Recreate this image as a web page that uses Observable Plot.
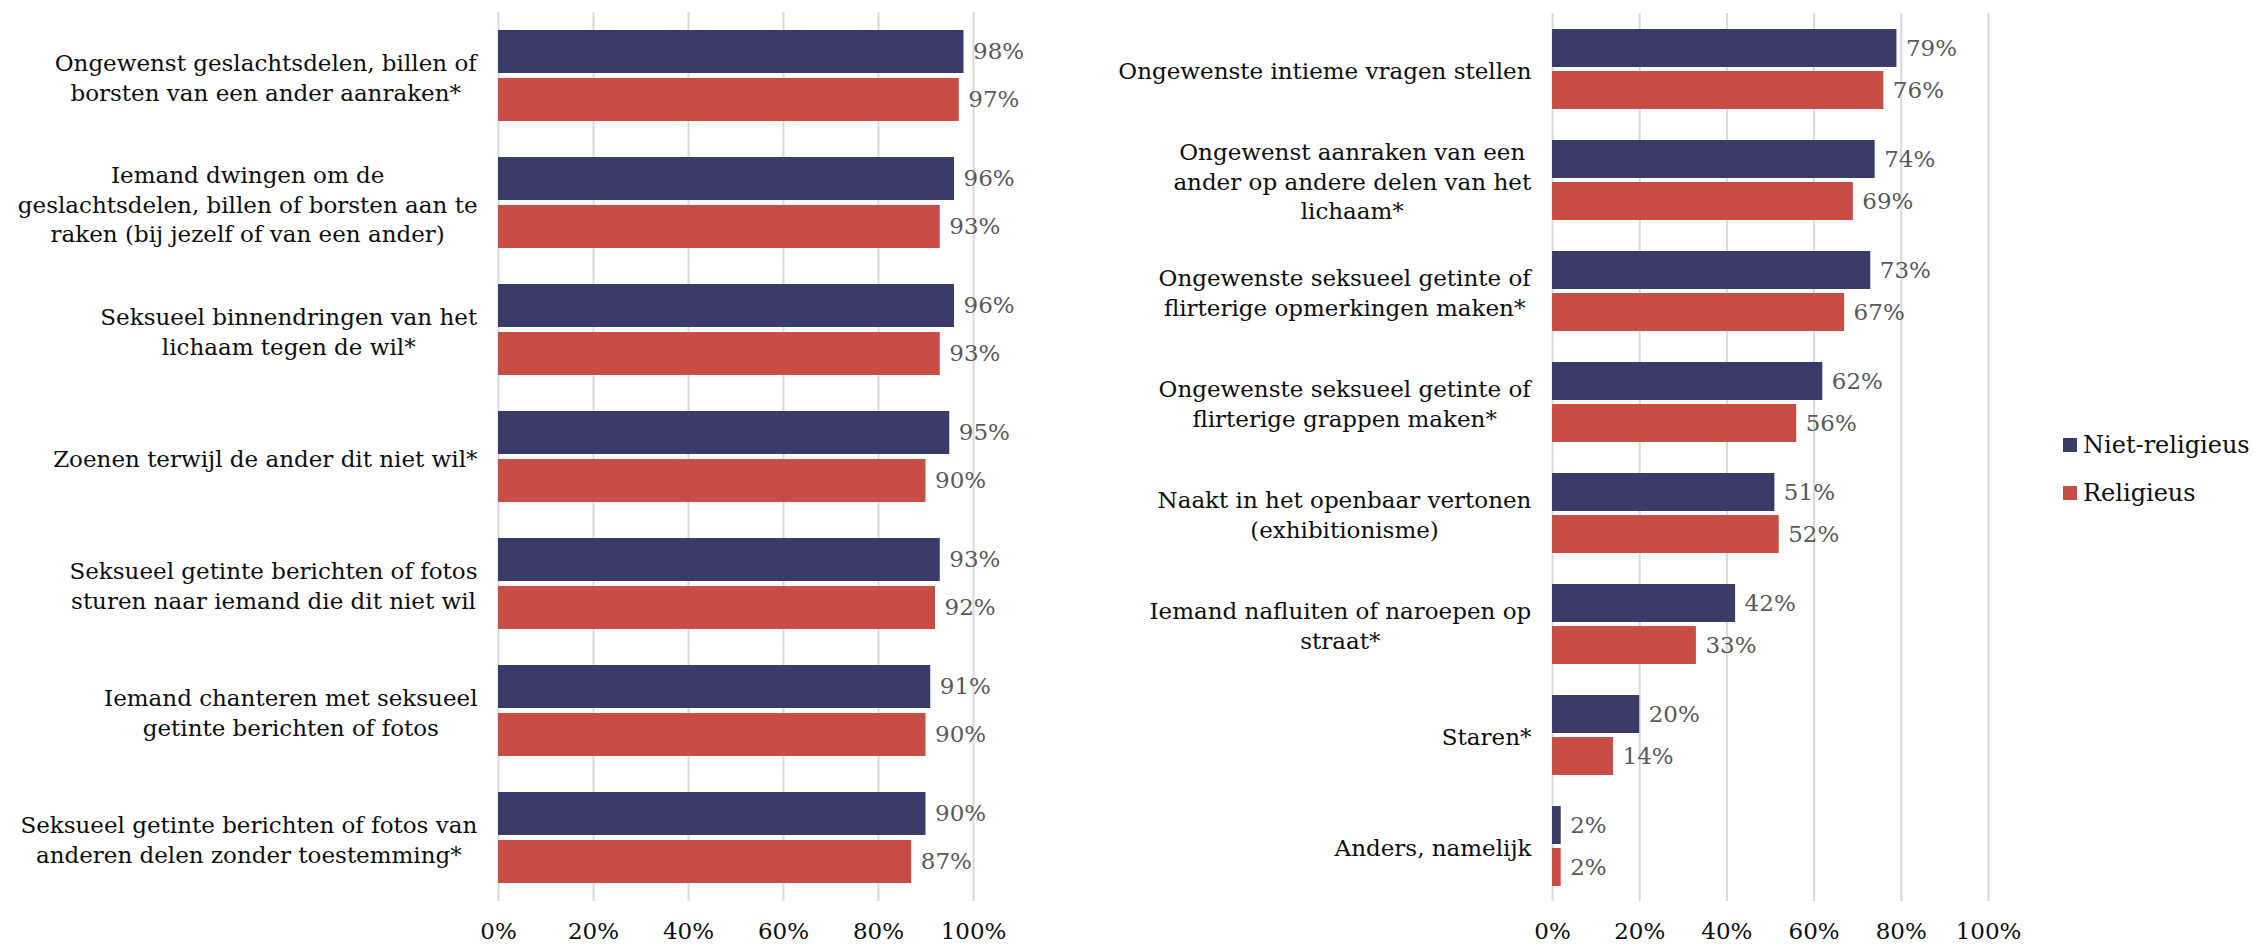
<!DOCTYPE html>
<html><head><meta charset="utf-8">
<script src="https://cdn.jsdelivr.net/npm/d3@7"></script>
<script src="https://cdn.jsdelivr.net/npm/@observablehq/plot@0.6"></script>
<style>
body{margin:0;background:#fff;}
#wrap{position:relative;width:2255px;height:945px;overflow:hidden;background:#fff;}
#left{position:absolute;left:0;top:0;}
#right{position:absolute;left:1045px;top:0;}
#legend{position:absolute;left:2063px;top:431px;width:192px;}
.lg-swatch svg{margin-right:6px !important;}
.lg-swatch{padding-bottom:20px !important;}
</style></head><body>
<div id="wrap"><div id="left"></div><div id="right"></div><div id="legend"></div></div>
<script>
const series = ["Niet-religieus", "Religieus"];
const seriesColors = ["#393b68", "#c84d44"];

const leftCategories = [
  "Ongewenst geslachtsdelen, billen of\nborsten van een ander aanraken*",
  "Iemand dwingen om de\ngeslachtsdelen, billen of borsten aan te\nraken (bij jezelf of van een ander)",
  "Seksueel binnendringen van het\nlichaam tegen de wil*",
  "Zoenen terwijl de ander dit niet wil*",
  "Seksueel getinte berichten of fotos\nsturen naar iemand die dit niet wil",
  "Iemand chanteren met seksueel\ngetinte berichten of fotos",
  "Seksueel getinte berichten of fotos van\nanderen delen zonder toestemming*"
];
const leftNietReligieus = [98, 96, 96, 95, 93, 91, 90];
const leftReligieus = [97, 93, 93, 90, 92, 90, 87];

const rightCategories = [
  "Ongewenste intieme vragen stellen",
  "Ongewenst aanraken van een\nander op andere delen van het\nlichaam*",
  "Ongewenste seksueel getinte of\nflirterige opmerkingen maken*",
  "Ongewenste seksueel getinte of\nflirterige grappen maken*",
  "Naakt in het openbaar vertonen\n(exhibitionisme)",
  "Iemand nafluiten of naroepen op\nstraat*",
  "Staren*",
  "Anders, namelijk"
];
const rightNietReligieus = [79, 74, 73, 62, 51, 42, 20, 2];
const rightReligieus = [76, 69, 67, 56, 52, 33, 14, 2];

const xTicks = [0, 20, 40, 60, 80, 100];

const FONT = "'DejaVu Serif', serif";

function rows(cats, a, b) {
  return cats.flatMap((c, i) => [
    {category: c, series: series[0], value: a[i]},
    {category: c, series: series[1], value: b[i]}
  ]);
}

function panel(cats, a, b, {width, marginLeft, marginRight}) {
  const data = rows(cats, a, b);
  return Plot.plot({
    width, height: 945,
    marginTop: 12, marginBottom: 44, marginLeft, marginRight,
    style: {fontFamily: FONT, fontSize: "23px", color: "#0d0d0d", background: "#fff", overflow: "visible"},
    facet: {marginTop: 0, marginRight: 0, marginBottom: 0, marginLeft: 0},
    fy: {domain: cats, padding: 0, axis: null},
    y: {domain: series, paddingInner: 0.1, paddingOuter: 0.35, axis: null},
    x: {domain: [0, 100], axis: null},
    color: {domain: series, range: seriesColors},
    marks: [
      Plot.gridX(xTicks, {stroke: "#d9d9d9", strokeOpacity: 1, strokeWidth: 2}),
      Plot.barX(data, {fy: "category", y: "series", x: "value", fill: "series"}),
      Plot.text(data, {fy: "category", y: "series", x: "value", text: d => d.value + "%",
        textAnchor: "start", dx: 9, fill: "#595959", fontSize: 23}),
      Plot.axisFy({anchor: "left", tickSize: 0, tickPadding: 21, fontSize: 23, lineHeight: 1.3,
        label: null, fill: "#0d0d0d"}),
      Plot.axisX({anchor: "bottom", ticks: xTicks, tickFormat: d => d + "%", tickSize: 0,
        tickPadding: 21, fontSize: 23, label: null, fill: "#0d0d0d"})
    ]
  });
}

function centerLines(svg) {
  svg.querySelectorAll('g[aria-label="fy-axis tick label"] text').forEach(t => {
    const spans = t.querySelectorAll("tspan");
    if (spans.length < 2) return;
    const w = t.getBBox().width;
    t.setAttribute("text-anchor", "middle");
    spans.forEach(s => {
      const x0 = +(s.getAttribute("x") || 0);
      s.setAttribute("x", x0 - w / 2);
    });
  });
}

const left = panel(leftCategories, leftNietReligieus, leftReligieus, {width: 1045, marginLeft: 498, marginRight: 72});
document.getElementById("left").appendChild(left);
centerLines(left);

const right = panel(rightCategories, rightNietReligieus, rightReligieus, {width: 1010, marginLeft: 507, marginRight: 67});
document.getElementById("right").appendChild(right);
centerLines(right);

const legend = Plot.legend({
  color: {domain: series, range: seriesColors},
  legend: "swatches", columns: 1, swatchSize: 14, className: "lg",
  style: {fontFamily: FONT, fontSize: "24px", color: "#0d0d0d"}
});
document.getElementById("legend").appendChild(legend);
</script>
</body></html>
